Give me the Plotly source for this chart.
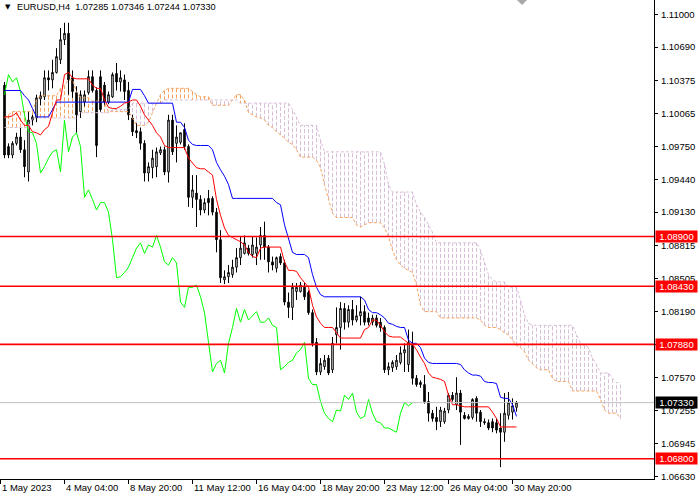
import plotly.graph_objects as go

# ---------------- data (EURUSD H4, bar index 0 .. 128) ----------------
open_ = [
    1.1033, 1.0975, 1.0967, 1.0978, 1.0984, 1.0972, 1.0951, 1.1000, 1.1002, 1.1020,
    1.1022, 1.1040, 1.1038, 1.1045, 1.1057, 1.1076, 1.1082, 1.1040, 1.1026, 1.1008,
    1.1017, 1.1026, 1.1041, 1.1028, 1.1041, 1.1033, 1.1017, 1.1022, 1.1044, 1.1036,
    1.1038, 1.1028, 1.1002, 1.0990, 1.0989, 1.0978, 1.0950, 1.0955, 1.0956, 1.0969,
    1.0972, 1.0951, 1.1000, 1.0978, 1.0979, 1.0991, 1.0975, 1.0927, 1.0931, 1.0925,
    1.0915, 1.0926, 1.0926, 1.0913, 1.0887, 1.0849, 1.0852, 1.0854, 1.0861, 1.0870,
    1.0874, 1.0879, 1.0873, 1.0874, 1.0882, 1.0891, 1.0880, 1.0866, 1.0860, 1.0871,
    1.0865, 1.0828, 1.0823, 1.0838, 1.0838, 1.0842, 1.0837, 1.0818, 1.0790, 1.0762,
    1.0767, 1.0775, 1.0764, 1.0797, 1.0804, 1.0822, 1.0809, 1.0821, 1.0811, 1.0815,
    1.0819, 1.0813, 1.0809, 1.0813, 1.0809, 1.0804, 1.0764, 1.0766, 1.0767, 1.0771,
    1.0780, 1.0769, 1.0787, 1.0756, 1.0752, 1.0750, 1.0734, 1.0723, 1.0719, 1.0715,
    1.0715, 1.0726, 1.0740, 1.0731, 1.0742, 1.0721, 1.0718, 1.0719, 1.0737, 1.0724,
    1.0715, 1.0714, 1.0715, 1.0714, 1.0709, 1.0705, 1.0721, 1.0724, 1.07285,
]
high = [
    1.1036, 1.0978, 1.0980, 1.0988, 1.0993, 1.0981, 1.1008, 1.1005, 1.1024, 1.1027,
    1.1047, 1.1047, 1.1057, 1.1068, 1.1087, 1.1092, 1.1092, 1.1047, 1.1032, 1.1028,
    1.1028, 1.1047, 1.1047, 1.1031, 1.1047, 1.1036, 1.1027, 1.1045, 1.1054, 1.1047,
    1.1043, 1.1036, 1.1005, 1.0997, 1.0993, 1.0981, 1.0960, 1.0972, 1.0974, 1.0975,
    1.0975, 1.1005, 1.1005, 1.0995, 1.0988, 1.0997, 1.0977, 1.0948, 1.0948, 1.0929,
    1.0926, 1.0934, 1.0928, 1.0917, 1.0896, 1.0858, 1.0863, 1.0868, 1.0879, 1.0890,
    1.0891, 1.0882, 1.0890, 1.0889, 1.0899, 1.0904, 1.0882, 1.0871, 1.0871, 1.0874,
    1.0868, 1.0837, 1.0846, 1.0846, 1.0847, 1.0846, 1.0839, 1.0821, 1.0794, 1.0775,
    1.0778, 1.0778, 1.0795, 1.0823, 1.0828, 1.0827, 1.0825, 1.0830, 1.0825, 1.0833,
    1.0825, 1.0818, 1.0816, 1.0816, 1.0813, 1.0806, 1.0771, 1.0773, 1.0778, 1.0786,
    1.0789, 1.0802, 1.0800, 1.0759, 1.0754, 1.0759, 1.0743, 1.0726, 1.0729, 1.0729,
    1.0728, 1.0742, 1.0743, 1.0757, 1.0745, 1.0724, 1.0722, 1.0737, 1.0739, 1.0726,
    1.0718, 1.0717, 1.0718, 1.0718, 1.0723, 1.0742, 1.0743, 1.0737, 1.07346,
]
low = [
    1.0964, 1.0964, 1.0964, 1.0976, 1.0969, 1.0946, 1.0942, 1.0995, 1.0998, 1.1014,
    1.1019, 1.1028, 1.1030, 1.1044, 1.1053, 1.1071, 1.1024, 1.1021, 1.0988, 1.1002,
    1.1013, 1.1024, 1.1026, 1.0965, 1.1008, 1.1014, 1.1015, 1.1021, 1.1028, 1.1027,
    1.1019, 1.1000, 1.0985, 1.0983, 1.0972, 1.0942, 1.0942, 1.0945, 1.0946, 1.0967,
    1.0948, 1.0941, 1.0967, 1.0960, 1.0977, 1.0972, 1.0918, 1.0917, 1.0899, 1.0910,
    1.0912, 1.0910, 1.0910, 1.0875, 1.0846, 1.0845, 1.0846, 1.0851, 1.0856, 1.0863,
    1.0873, 1.0872, 1.0870, 1.0863, 1.0868, 1.0868, 1.0856, 1.0858, 1.0856, 1.0863,
    1.0825, 1.0813, 1.0811, 1.0830, 1.0837, 1.0830, 1.0816, 1.0786, 1.0759, 1.0759,
    1.0764, 1.0759, 1.0761, 1.0789, 1.0783, 1.0802, 1.0804, 1.0806, 1.0809, 1.0806,
    1.0806, 1.0806, 1.0806, 1.0804, 1.0800, 1.0761, 1.0759, 1.0762, 1.0764, 1.0769,
    1.0762, 1.0762, 1.0750, 1.0748, 1.0747, 1.0732, 1.0715, 1.0715, 1.0707, 1.0710,
    1.0713, 1.0723, 1.0734, 1.0726, 1.0693, 1.0717, 1.0717, 1.0717, 1.0715, 1.0710,
    1.0712, 1.0707, 1.0705, 1.0704, 1.0672, 1.0696, 1.0717, 1.0717, 1.07244,
]
close = [
    1.0967, 1.0967, 1.0978, 1.0984, 1.0972, 1.0956, 1.1000, 1.1003, 1.1021, 1.1023,
    1.1040, 1.1038, 1.1045, 1.1060, 1.1076, 1.1082, 1.1038, 1.1027, 1.1005, 1.1024,
    1.1024, 1.1041, 1.1028, 1.0976, 1.1010, 1.1017, 1.1024, 1.1043, 1.1036, 1.1040,
    1.1027, 1.1005, 1.0989, 1.0988, 1.0978, 1.0950, 1.0956, 1.0964, 1.0970, 1.0972,
    1.0951, 1.1000, 1.0970, 1.0984, 1.0988, 1.0975, 1.0927, 1.0934, 1.0925, 1.0915,
    1.0922, 1.0922, 1.0913, 1.0887, 1.0851, 1.0852, 1.0856, 1.0861, 1.0870, 1.0879,
    1.0884, 1.0874, 1.0882, 1.0880, 1.0891, 1.0880, 1.0866, 1.0863, 1.0870, 1.0865,
    1.0828, 1.0823, 1.0842, 1.0842, 1.0844, 1.0833, 1.0818, 1.0789, 1.0762, 1.0770,
    1.0773, 1.0761, 1.0789, 1.0804, 1.0822, 1.0809, 1.0821, 1.0811, 1.0815, 1.0819,
    1.0809, 1.0809, 1.0813, 1.0806, 1.0804, 1.0764, 1.0767, 1.0771, 1.0773, 1.0780,
    1.0783, 1.0790, 1.0756, 1.0750, 1.0750, 1.0734, 1.0723, 1.0718, 1.0715, 1.0726,
    1.0725, 1.0740, 1.0736, 1.0742, 1.0724, 1.0718, 1.0720, 1.0736, 1.0723, 1.0715,
    1.0714, 1.0709, 1.0709, 1.0707, 1.0705, 1.0723, 1.0733, 1.0730, 1.07330,
]
tenkan = [
    1.1003, 1.1003, 1.1004, 1.1007, 1.1000, 1.0995, 1.0995, 1.0989, 1.0988, 1.0986,
    1.0991, 1.0994, 1.1007, 1.1019, 1.1019, 1.1043, 1.1045, 1.1040, 1.1039, 1.1039,
    1.1039, 1.1039, 1.1033, 1.1030, 1.1030, 1.1019, 1.1012, 1.1011, 1.1011, 1.1013,
    1.1016, 1.1017, 1.1019, 1.1019, 1.1013, 1.1005, 1.1000, 1.0995, 1.0988, 1.0984,
    1.0976, 1.0974, 1.0974, 1.0974, 1.0974, 1.0974, 1.0964, 1.0960, 1.0955, 1.0954,
    1.0954, 1.0951, 1.0948, 1.0925, 1.0910, 1.0898, 1.0891, 1.0889, 1.0887, 1.0885,
    1.0882, 1.0875, 1.0871, 1.0870, 1.0879, 1.0880, 1.0880, 1.0880, 1.0880, 1.0880,
    1.0866, 1.0858, 1.0858, 1.0857, 1.0851, 1.0846, 1.0842, 1.0825, 1.0814, 1.0808,
    1.0804, 1.0804, 1.0804, 1.0799, 1.0794, 1.0794, 1.0794, 1.0794, 1.0794, 1.0794,
    1.0802, 1.0804, 1.0811, 1.0811, 1.0806, 1.0800, 1.0796, 1.0795, 1.0795, 1.0795,
    1.0792, 1.0789, 1.0788, 1.0783, 1.0776, 1.0770, 1.0761, 1.0757, 1.0756, 1.0755,
    1.0753, 1.0740, 1.0731, 1.0731, 1.0730, 1.0729, 1.0729, 1.0729, 1.0729, 1.0729,
    1.0729, 1.0729, 1.0724, 1.0718, 1.0710, 1.0710, 1.0710, 1.0710, 1.0710,
]
kijun = [
    1.1028, 1.1028, 1.1028, 1.1028, 1.1028, 1.1023, 1.1019, 1.1011, 1.1003, 1.1003,
    1.1003, 1.1003, 1.1010, 1.1017, 1.1017, 1.1017, 1.1017, 1.1017, 1.1017, 1.1017,
    1.1017, 1.1017, 1.1017, 1.1017, 1.1017, 1.1017, 1.1017, 1.1017, 1.1017, 1.1017,
    1.1017, 1.1017, 1.1029, 1.1029, 1.1029, 1.1023, 1.1016, 1.1016, 1.1016, 1.1016,
    1.1016, 1.1016, 1.1016, 1.0998, 1.0998, 1.0993, 1.0981, 1.0977, 1.0976, 1.0976,
    1.0976, 1.0976, 1.0972, 1.0960, 1.0953, 1.0947, 1.0939, 1.0926, 1.0926, 1.0926,
    1.0926, 1.0926, 1.0926, 1.0926, 1.0926, 1.0926, 1.0926, 1.0926, 1.0922, 1.0920,
    1.0901, 1.0887, 1.0875, 1.0873, 1.0873, 1.0873, 1.0870, 1.0854, 1.0842, 1.0835,
    1.0833, 1.0833, 1.0833, 1.0833, 1.0833, 1.0833, 1.0833, 1.0833, 1.0833, 1.0833,
    1.0830, 1.0821, 1.0818, 1.0818, 1.0816, 1.0813, 1.0808, 1.0807, 1.0805, 1.0804,
    1.0804, 1.0792, 1.0789, 1.0789, 1.0785, 1.0775, 1.0771, 1.0770, 1.0770, 1.0770,
    1.0770, 1.0770, 1.0770, 1.0770, 1.0769, 1.0764, 1.0761, 1.0759, 1.0759, 1.0758,
    1.0753, 1.0752, 1.0752, 1.0751, 1.0738, 1.0737, 1.0737, 1.0731, 1.0720,
]
# Senkou spans, bar index 0 .. 154 (26 bars beyond the last candle)
span_a = [
    1.1002, 1.1005, 1.1008, 1.1008, 1.1008, 1.1008, 1.1008, 1.1008, 1.1019, 1.1023,
    1.1023, 1.1023, 1.1023, 1.1023, 1.1030, 1.1033, 1.1038, 1.1038, 1.1027, 1.1021,
    1.1021, 1.1021, 1.1018, 1.1018, 1.1018, 1.1016, 1.1008, 1.1008, 1.1008, 1.1008,
    1.1008, 1.1008, 1.1002, 1.0995, 1.0995, 1.0995, 1.0998, 1.1008, 1.1016, 1.1024,
    1.1028, 1.1030, 1.1030, 1.1030, 1.1030, 1.1030, 1.1030, 1.1027, 1.1024, 1.1022,
    1.1022, 1.1022, 1.1014, 1.1014, 1.1014, 1.1014, 1.1014, 1.1019, 1.1024, 1.1024,
    1.1019, 1.1007, 1.1005, 1.1003, 1.1002, 1.1000, 1.0995, 1.0993, 1.0989, 1.0986,
    1.0983, 1.0979, 1.0977, 1.0972, 1.0965, 1.0965, 1.0965, 1.0965, 1.0962, 1.0955,
    1.0939, 1.0925, 1.0912, 1.0908, 1.0908, 1.0908, 1.0908, 1.0908, 1.0901, 1.0899,
    1.0901, 1.0903, 1.0903, 1.0903, 1.0903, 1.0898, 1.0890, 1.0877, 1.0868, 1.0863,
    1.0860, 1.0858, 1.0856, 1.0844, 1.0825, 1.0819, 1.0819, 1.0819, 1.0819, 1.0813,
    1.0813, 1.0813, 1.0813, 1.0813, 1.0813, 1.0813, 1.0813, 1.0813, 1.0813, 1.0811,
    1.0806, 1.0804, 1.0804, 1.0804, 1.0802, 1.0799, 1.0797, 1.0792, 1.0787, 1.0785,
    1.0781, 1.0773, 1.0769, 1.0766, 1.0764, 1.0764, 1.0764, 1.0756, 1.0753, 1.0753,
    1.0753, 1.0753, 1.0744, 1.0744, 1.0744, 1.0744, 1.0744, 1.0744, 1.0744, 1.0736,
    1.0726, 1.0723, 1.0723, 1.0723, 1.0718,
]
span_b = [
    1.0993, 1.0993, 1.0993, 1.0993, 1.0993, 1.0993, 1.0993, 1.1002, 1.1002, 1.1002,
    1.1002, 1.1002, 1.1002, 1.1002, 1.1002, 1.1002, 1.1002, 1.1002, 1.1002, 1.1007,
    1.1007, 1.1007, 1.1007, 1.1007, 1.1007, 1.1007, 1.1007, 1.1010, 1.1010, 1.1010,
    1.1010, 1.1010, 1.1016, 1.1016, 1.1016, 1.1016, 1.1016, 1.1016, 1.1016, 1.1016,
    1.1019, 1.1019, 1.1019, 1.1019, 1.1019, 1.1019, 1.1019, 1.1019, 1.1019, 1.1019,
    1.1019, 1.1019, 1.1019, 1.1019, 1.1019, 1.1019, 1.1019, 1.1019, 1.1019, 1.1016,
    1.1016, 1.1016, 1.1016, 1.1016, 1.1016, 1.1016, 1.1016, 1.1016, 1.1016, 1.1016,
    1.1016, 1.1016, 1.1010, 1.1002, 1.0995, 1.0995, 1.0995, 1.0995, 1.0995, 1.0981,
    1.0970, 1.0970, 1.0970, 1.0970, 1.0970, 1.0970, 1.0970, 1.0970, 1.0970, 1.0970,
    1.0970, 1.0970, 1.0970, 1.0970, 1.0970, 1.0958, 1.0939, 1.0932, 1.0932, 1.0932,
    1.0932, 1.0932, 1.0932, 1.0920, 1.0913, 1.0908, 1.0901, 1.0894, 1.0884, 1.0884,
    1.0884, 1.0884, 1.0884, 1.0884, 1.0884, 1.0884, 1.0884, 1.0884, 1.0884, 1.0877,
    1.0866, 1.0854, 1.0849, 1.0847, 1.0847, 1.0847, 1.0842, 1.0842, 1.0842, 1.0830,
    1.0816, 1.0808, 1.0806, 1.0806, 1.0806, 1.0806, 1.0806, 1.0806, 1.0806, 1.0806,
    1.0806, 1.0806, 1.0806, 1.0797, 1.0789, 1.0787, 1.0785, 1.0775, 1.0769, 1.0761,
    1.0761, 1.0761, 1.0756, 1.0752, 1.0752,
]
chikou_shift = 26

levels = [1.08900, 1.08430, 1.07880, 1.06800]
level_labels = ["1.08900", "1.08430", "1.07880", "1.06800"]
bid_price = 1.07330
bid_label = "1.07330"

price_ticks = [1.11000, 1.10690, 1.10375, 1.10065, 1.09750, 1.09440, 1.09130,
               1.08815, 1.08505, 1.08190, 1.07880, 1.07570, 1.07255, 1.06945, 1.06630]
price_tick_text = ["1.11000", "1.10690", "1.10375", "1.10065", "1.09750", "1.09440", "1.09130",
                   "1.08815", "1.08505", "1.08190", "", "1.07570", "1.07255", "1.06945", "1.06630"]
time_tick_pos = [-1, 15, 31, 47, 63, 79, 95, 111, 127]
time_tick_text = ["1 May 2023", "4 May 04:00", "8 May 20:00", "11 May 12:00", "16 May 04:00",
                  "18 May 20:00", "23 May 12:00", "26 May 04:00", "30 May 20:00"]
title_text = "EURUSD,H4  1.07285 1.07346 1.07244 1.07330"

for arr in (high, low, close, tenkan, kijun):
    assert len(arr) == len(open_), len(arr)
assert len(span_a) == len(span_b)

# ---------------- figure ----------------
FONT = "Liberation Sans, Arial, sans-serif"
FS = 9.5
SANDY = "#F4A460"
THISTLE = "#D8BFD8"
bars = list(range(len(open_)))
cloud_x = list(range(len(span_a)))

fig = go.Figure()

shapes = []
# cloud hatch: one dotted vertical stroke per bar between the two spans
for i in cloud_x:
    col = SANDY if span_a[i] > span_b[i] else THISTLE
    shapes.append(dict(type="line", xref="x", yref="y", x0=i, x1=i,
                       y0=span_a[i], y1=span_b[i], layer="below",
                       line=dict(color=col, width=1, dash="4px,2px")))

fig.add_trace(go.Candlestick(
    x=bars, open=open_, high=high, low=low, close=close,
    increasing=dict(line=dict(color="black", width=1), fillcolor="white"),
    decreasing=dict(line=dict(color="black", width=1), fillcolor="black"),
    whiskerwidth=0, showlegend=False, hoverinfo="skip"))

fig.add_trace(go.Scatter(x=cloud_x, y=span_a, mode="lines",
                         line=dict(color=SANDY, width=1, dash="3px,2px"),
                         showlegend=False, hoverinfo="skip"))
fig.add_trace(go.Scatter(x=cloud_x, y=span_b, mode="lines",
                         line=dict(color=THISTLE, width=1, dash="3px,2px"),
                         showlegend=False, hoverinfo="skip"))
fig.add_trace(go.Scatter(x=[b - chikou_shift for b in bars[chikou_shift:]],
                         y=close[chikou_shift:], mode="lines",
                         line=dict(color="#00FF00", width=1),
                         showlegend=False, hoverinfo="skip"))
fig.add_trace(go.Scatter(x=bars, y=kijun, mode="lines",
                         line=dict(color="#0000FF", width=1),
                         showlegend=False, hoverinfo="skip"))
fig.add_trace(go.Scatter(x=bars, y=tenkan, mode="lines",
                         line=dict(color="#FF0000", width=1),
                         showlegend=False, hoverinfo="skip"))

# horizontal levels and bid line
for lv in levels:
    shapes.append(dict(type="line", xref="paper", yref="y", x0=0, x1=1, y0=lv, y1=lv,
                       layer="above", line=dict(color="#FF0000", width=1.6)))
shapes.append(dict(type="line", xref="paper", yref="y", x0=0, x1=1, y0=bid_price, y1=bid_price,
                   layer="above", line=dict(color="#C0C0C0", width=1)))

# chart-shift marker at top
shapes.append(dict(type="path", xref="paper", yref="paper",
                   path="M 0.7905 1.0 L 0.8058 1.0 L 0.79815 0.98956 Z",
                   fillcolor="#A8A8A8", line=dict(width=0)))

annotations = []
annotations.append(dict(text="▼", xref="paper", yref="paper",
                        x=2.5 / 654, y=1 - 7 / 479, xanchor="left", yanchor="middle",
                        showarrow=False, font=dict(family="DejaVu Sans", size=7, color="black")))
annotations.append(dict(text=title_text, xref="paper", yref="paper",
                        x=15 / 654, y=1 - 7.5 / 479, xanchor="left", yanchor="middle",
                        showarrow=False, font=dict(family=FONT, size=9.2, color="black")))
for pos, txt in zip(time_tick_pos, time_tick_text):
    annotations.append(dict(text=txt, xref="x", yref="paper", x=pos, y=0,
                            xanchor="left", yanchor="top", yshift=-1, xshift=-1,
                            showarrow=False, font=dict(family=FONT, size=FS, color="black")))
for lv, txt in zip(levels, level_labels):
    annotations.append(dict(text=txt, xref="paper", yref="y", x=1, y=lv,
                            xanchor="left", yanchor="middle", xshift=1,
                            showarrow=False, bgcolor="#FF0000", width=41, height=11,
                            borderpad=0, font=dict(family=FONT, size=FS, color="white")))
annotations.append(dict(text=bid_label, xref="paper", yref="y", x=1, y=bid_price,
                        xanchor="left", yanchor="middle", xshift=1,
                        showarrow=False, bgcolor="black", width=41, height=11,
                        borderpad=0, font=dict(family=FONT, size=FS, color="white")))

fig.update_layout(
    width=700, height=500,
    margin=dict(l=0, r=46, t=0, b=21),
    paper_bgcolor="white", plot_bgcolor="white",
    showlegend=False, boxgap=0.45,
    shapes=shapes, annotations=annotations,
    xaxis=dict(range=[-1.125, 162.375], showgrid=False, zeroline=False,
               showline=True, linecolor="black", linewidth=1,
               ticks="outside", ticklen=4, tickcolor="black",
               tickvals=time_tick_pos, showticklabels=False,
               rangeslider=dict(visible=False), fixedrange=True),
    yaxis=dict(side="right", range=[1.06608, 1.11135], showgrid=False, zeroline=False,
               showline=True, linecolor="black", linewidth=1,
               ticks="outside", ticklen=3, tickcolor="black",
               tickvals=price_ticks, ticktext=price_tick_text, ticklabelstandoff=1,
               tickfont=dict(family=FONT, size=FS, color="black"), fixedrange=True),
)

fig.write_html("out.html", config={"displayModeBar": False},
               post_script="document.body.style.margin='0px';document.body.style.padding='0px';")
